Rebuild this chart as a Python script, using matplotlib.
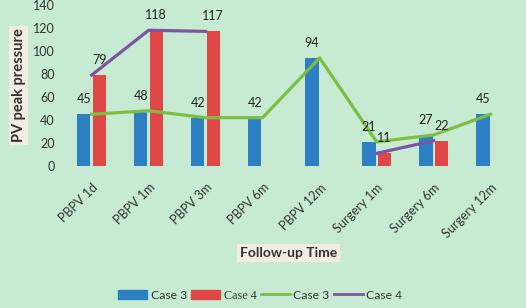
"""Follow-up PV peak pressure, cases 3 and 4 (bars + lines)."""

import matplotlib

matplotlib.use("Agg")
import matplotlib.pyplot as plt
import numpy as np
from matplotlib.lines import Line2D
from matplotlib.patches import Patch

categories = ["PBPV 1d", "PBPV 1m", "PBPV 3m", "PBPV 6m", "PBPV 12m",
              "Surgery 1m", "Surgery 6m", "Surgery 12m"]
case3 = [45, 48, 42, 42, 94, 21, 27, 45]
case4 = [79, 118, 117, np.nan, np.nan, 11, 22, np.nan]

BG = "#c6ebd2"
BLUE = "#2c7fc3"
RED = "#e04848"
GREEN = "#7dbd42"
PURPLE = "#7d55a3"
BOX = "#f3ece2"

plt.rcParams["font.family"] = ["Lato", "DejaVu Sans"]

fig = plt.figure(figsize=(5.26, 3.08), dpi=100, facecolor=BG)
ax = fig.add_axes([0.12, 0.461, 0.867, 0.523], facecolor=BG)

x = np.arange(len(categories))
off, w = 0.135, 0.23
c3 = np.array(case3, dtype=float)
c4 = np.array(case4, dtype=float)

ax.bar(x - off, c3, width=w, color=BLUE, zorder=2)
ax.bar(x + off, np.nan_to_num(c4), width=w, color=RED, zorder=2)
ax.plot(x, c3, color=GREEN, lw=2.3, zorder=3)
ax.plot(x, c4, color=PURPLE, lw=2.3, zorder=4)

for xi, v in zip(x, c3):
    ax.annotate(f"{v:.0f}", (xi - off, v), xytext=(0, 6.5), textcoords="offset points",
                ha="center", va="bottom", fontsize=9, color="#222222")
for xi, v in zip(x, c4):
    if not np.isnan(v):
        ax.annotate(f"{v:.0f}", (xi + off, v), xytext=(0, 6.5), textcoords="offset points",
                    ha="center", va="bottom", fontsize=9, color="#222222")

ax.set_xlim(-0.5, len(categories) - 0.5)
ax.set_ylim(0, 140)
ax.set_yticks(range(0, 141, 20))
ax.set_xticks(x)
ax.set_xticklabels(categories, rotation=45, ha="right", rotation_mode="anchor")
ax.tick_params(axis="both", length=0, labelsize=9, colors="#333333")
ax.tick_params(axis="x", pad=11)
ax.tick_params(axis="y", pad=6)
for s in ax.spines.values():
    s.set_visible(False)
ax.axhline(0, color="#d8d8d8", lw=0.8, zorder=1)

ax.set_ylabel("PV peak pressure", fontsize=10.5, fontweight="bold", color="#333333",
              bbox=dict(facecolor=BOX, edgecolor="none", pad=2))
ax.yaxis.set_label_coords(-0.082, 0.5)
fig.text(0.548, 0.178, "Follow-up Time", ha="center", va="center", fontsize=10,
         fontweight="bold", color="#333333",
         bbox=dict(facecolor=BOX, edgecolor="none", pad=2))

handles = [Patch(color=BLUE), Patch(color=RED),
           Line2D([], [], color=GREEN, lw=2), Line2D([], [], color=PURPLE, lw=2)]
labels = ["Case 3", "Case 4", "Case 3", "Case 4"]
leg = fig.legend(handles, labels, loc="center", bbox_to_anchor=(0.495, 0.04), ncol=4,
                 frameon=False, fontsize=8.7, handlelength=2.4, handletextpad=0.3,
                 columnspacing=0.35, handleheight=0.8)
for t in leg.get_texts():
    t.set_color("#333333")
leg.get_texts()[1].set_family(["Liberation Serif", "DejaVu Serif"])

fig.savefig("out.png", dpi=100, facecolor=BG)
